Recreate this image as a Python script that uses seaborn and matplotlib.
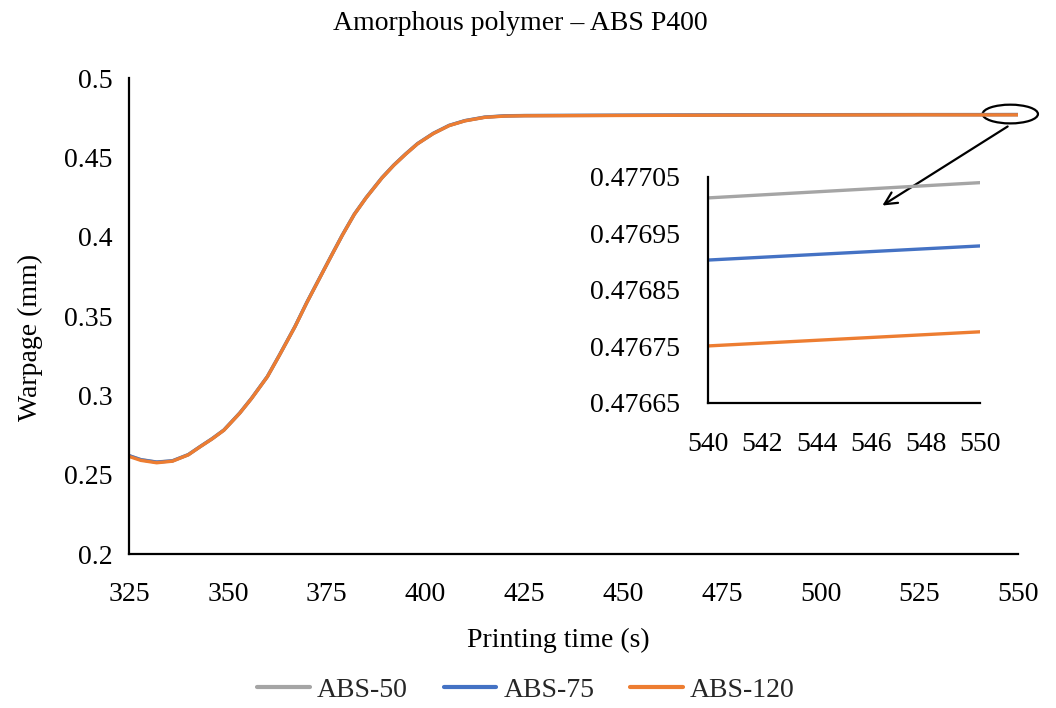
import matplotlib
matplotlib.use("Agg")
import matplotlib.pyplot as plt
import seaborn as sns
import pandas as pd
from matplotlib.patches import Ellipse

# ---- data ----
time_s = [325, 328, 332, 336, 340, 343, 346, 349, 353, 356, 360, 363, 367, 370,
          372, 376, 379, 382, 385, 389, 392, 395, 398, 402, 406, 410, 415, 420,
          425, 450, 475, 500, 525, 540, 550]
abs50 = [0.2620, 0.2595, 0.2580, 0.2588, 0.2627, 0.2678, 0.2727, 0.2782, 0.2889,
         0.2982, 0.3119, 0.3252, 0.3435, 0.3587, 0.3682, 0.3872, 0.4012, 0.4142,
         0.4247, 0.4372, 0.4452, 0.4522, 0.4587, 0.4652, 0.4702, 0.4732, 0.4754,
         0.4762, 0.4764, 0.4766, 0.4768, 0.4769, 0.4770, 0.47701, 0.47704]
abs75 = [0.2620, 0.2594, 0.2579, 0.2587, 0.2626, 0.2677, 0.2726, 0.2781, 0.2888,
         0.2981, 0.3118, 0.3251, 0.3434, 0.3586, 0.3681, 0.3871, 0.4011, 0.4141,
         0.4246, 0.4371, 0.4451, 0.4521, 0.4586, 0.4651, 0.4701, 0.4731, 0.4753,
         0.4761, 0.4763, 0.4765, 0.4767, 0.4768, 0.4769, 0.47690, 0.47693]
abs120 = [0.2615, 0.2590, 0.2575, 0.2585, 0.2625, 0.2676, 0.2725, 0.2780, 0.2887,
          0.2980, 0.3117, 0.3250, 0.3433, 0.3585, 0.3680, 0.3870, 0.4010, 0.4140,
          0.4245, 0.4370, 0.4450, 0.4520, 0.4585, 0.4650, 0.4700, 0.4730, 0.4752,
          0.4760, 0.4762, 0.4764, 0.4766, 0.4767, 0.4768, 0.47675, 0.47678]

inset_time = [540, 550]
inset_abs50 = [0.477013, 0.477040]
inset_abs75 = [0.476903, 0.476928]
inset_abs120 = [0.476751, 0.476776]

series_names = ["ABS-50", "ABS-75", "ABS-120"]
colors = ["#A5A5A5", "#4472C4", "#ED7D31"]

x_ticks = [325, 350, 375, 400, 425, 450, 475, 500, 525, 550]
y_ticks = [0.2, 0.25, 0.3, 0.35, 0.4, 0.45, 0.5]
y_tick_labels = ["0.2", "0.25", "0.3", "0.35", "0.4", "0.45", "0.5"]
inset_x_ticks = [540, 542, 544, 546, 548, 550]
inset_y_ticks = [0.47665, 0.47675, 0.47685, 0.47695, 0.47705]
inset_y_labels = ["0.47665", "0.47675", "0.47685", "0.47695", "0.47705"]

# ---- build frames ----
main_df = pd.concat([
    pd.DataFrame({"time": time_s, "warpage": v, "series": n})
    for n, v in zip(series_names, [abs50, abs75, abs120])
])
inset_df = pd.concat([
    pd.DataFrame({"time": inset_time, "warpage": v, "series": n})
    for n, v in zip(series_names, [inset_abs50, inset_abs75, inset_abs120])
])

sns.set_theme(style="white")
plt.rcParams["font.family"] = ["Liberation Serif", "DejaVu Serif"]
FS = 20

fig = plt.figure(figsize=(10.56, 7.08), dpi=100)
ax = fig.add_axes([0.1222, 0.2175, 0.842, 0.6723])
palette = dict(zip(series_names, colors))
sns.lineplot(data=main_df, x="time", y="warpage", hue="series", palette=palette,
             hue_order=series_names, linewidth=2.4, ax=ax, legend=False)

ax.set_xlim(325, 550)
ax.set_ylim(0.2, 0.5)
ax.set_xticks(x_ticks)
ax.set_xticklabels([str(t) for t in x_ticks], fontsize=FS)
ax.set_yticks(y_ticks)
ax.set_yticklabels(y_tick_labels, fontsize=FS)
for s in ["top", "right"]:
    ax.spines[s].set_visible(False)
for s in ["left", "bottom"]:
    ax.spines[s].set_color("black")
    ax.spines[s].set_linewidth(1.6)
ax.tick_params(axis="both", direction="in", length=7, width=1.6, color="black",
               labelcolor="black")
ax.tick_params(axis="y", pad=12)
ax.tick_params(axis="x", pad=20)
ax.set_xlabel("Printing time (s)", fontsize=FS, color="black")
ax.xaxis.set_label_coords(0.4826, -0.155)
ax.set_ylabel("Warpage (mm)", fontsize=FS, color="black")
ax.yaxis.set_label_coords(-0.097, 0.454)
fig.suptitle("Amorphous polymer \u2013 ABS P400", fontsize=FS, x=0.493,
             y=1 - 11 / 708, va="top", color="black")

# ellipse highlighting the region
ell = Ellipse((548.0, 0.4773), width=14.0, height=0.0118, fill=False,
              edgecolor="black", linewidth=1.6, clip_on=False)
ax.add_patch(ell)

# inset
axin = fig.add_axes([0.6705, 0.4308, 0.2576, 0.3192])
sns.lineplot(data=inset_df, x="time", y="warpage", hue="series", palette=palette,
             hue_order=series_names, linewidth=2.4, ax=axin, legend=False)
axin.set_xlim(540, 550)
axin.set_ylim(0.47665, 0.47705)
axin.set_xticks(inset_x_ticks)
axin.set_xticklabels([str(t) for t in inset_x_ticks], fontsize=FS)
axin.set_yticks(inset_y_ticks)
axin.set_yticklabels(inset_y_labels, fontsize=FS)
axin.set_xlabel("")
axin.set_ylabel("")
axin.patch.set_alpha(0)
for s in ["top", "right"]:
    axin.spines[s].set_visible(False)
for s in ["left", "bottom"]:
    axin.spines[s].set_color("black")
    axin.spines[s].set_linewidth(1.6)
axin.tick_params(axis="both", direction="in", length=7, width=1.6, color="black",
                 labelcolor="black")
axin.tick_params(axis="y", pad=20)
axin.tick_params(axis="x", pad=21)

# arrow
ax.annotate("", xy=(880 / 1056, 1 - 207 / 708), xycoords="figure fraction",
            xytext=(1010 / 1056, 1 - 125 / 708), textcoords="figure fraction",
            arrowprops=dict(arrowstyle="->", color="black", lw=1.6,
                            mutation_scale=22))

# legend
handles = [plt.Line2D([0], [0], color=c, lw=3) for c in colors]
fig.legend(handles, series_names, loc="center", bbox_to_anchor=(0.498, 1 - 690 / 708),
           ncol=3, frameon=False, fontsize=FS, handlelength=1.9,
           columnspacing=1.3, handletextpad=0.25)

fig.savefig("out.png", dpi=100)
